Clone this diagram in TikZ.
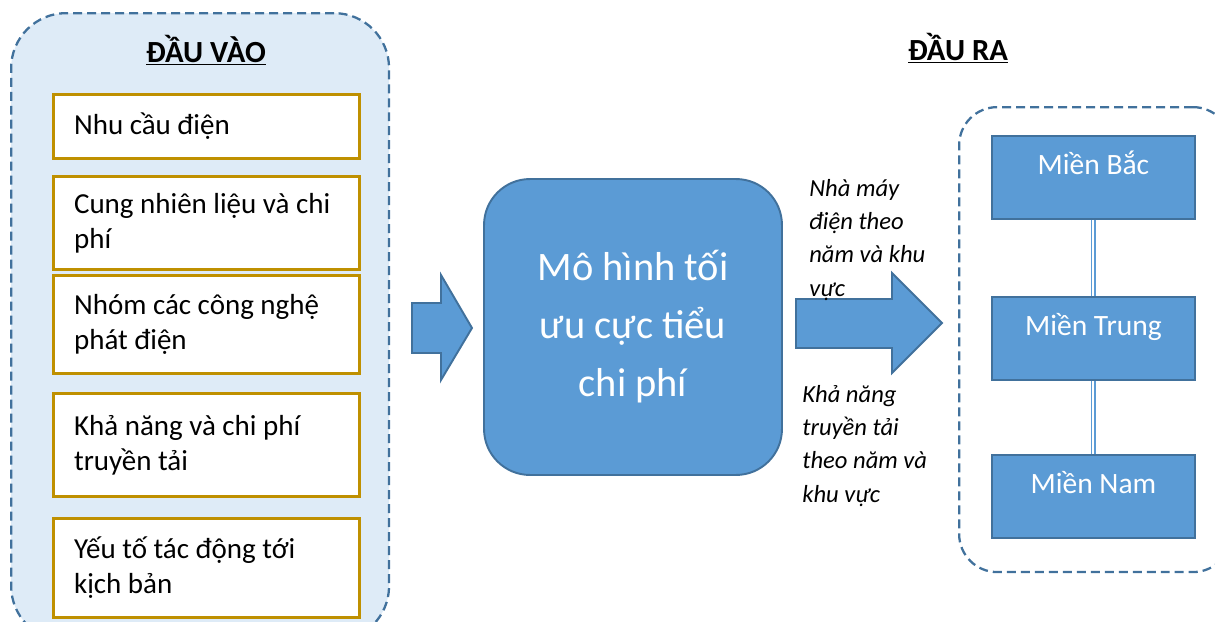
\documentclass[tikz,border=0pt]{standalone}
\usepackage{fontspec}
\setmainfont{Carlito}
\usetikzlibrary{positioning}

\definecolor{paleblue}{HTML}{DEEBF7}
\definecolor{frameblue}{HTML}{41719C}
\definecolor{boxblue}{HTML}{5B9BD5}
\definecolor{goldline}{HTML}{BF9000}

\begin{document}
\begin{tikzpicture}[
  x=0.02cm, y=-0.02cm,
  every node/.style={inner sep=0pt},
  group/.style={draw=frameblue, line width=1.3pt, dash pattern=on 0.18cm off 0.1cm},
  inbox/.style={draw=goldline, fill=white, line width=1.8pt, anchor=north west,
    text width=5.3cm, inner xsep=0.41cm, align=flush left,
    font=\fontsize{16.5}{19.9}\selectfont},
  region/.style={draw=frameblue, fill=boxblue, line width=1.1pt, anchor=north west,
    minimum width=4.06cm, text height=0.78cm, text depth=0.88cm, text=white,
    font=\fontsize{16.8}{19}\selectfont},
  blockarrow/.style={draw=frameblue, fill=boxblue, line width=1.1pt, line join=miter},
  link/.style={draw=boxblue, double=white, double distance=1.1pt, line width=0.9pt},
  heading/.style={anchor=base, font=\bfseries\fontsize{17.5}{20}\selectfont},
  flowlabel/.style={anchor=base west, align=left,
    font=\itshape\fontsize{14}{18.8}\selectfont},
]

% ── Page frame (1px = 0.02cm) ────────────────────────────────────────────────
\useasboundingbox (0,0) rectangle (1215,622);
\clip (0,0) rectangle (1215,622);

% ── Input group (left) ───────────────────────────────────────────────────────
\node[group, fill=paleblue, rounded corners=1.1cm, anchor=north west,
      minimum width=7.56cm, minimum height=12.56cm] (inputs) at (10,12) {};
\node[heading] (inTitle) at (206,62) {\underline{ĐẦU VÀO}};

% Input boxes, hand-placed top to bottom
\node[inbox, minimum height=1.28cm] (demand) at (52,93)  {Nhu cầu điện};
\node[inbox, minimum height=1.86cm] (fuel)   at (52,175) {Cung nhiên liệu và chi\\phí};
\node[inbox, minimum height=1.96cm] (tech)   at (52,274) {Nhóm các công nghệ\\phát điện};
\node[inbox, minimum height=2.06cm] (trans)  at (52,392) {Khả năng và chi phí\\truyền tải};
\node[inbox, minimum height=1.98cm] (scen)   at (52,517) {Yếu tố tác động tới\\kịch bản};

% ── Input arrow ──────────────────────────────────────────────────────────────
\draw[blockarrow] (412,303) -- (441,303) -- (441,275) -- (472,328)
  -- (441,380) -- (441,353) -- (412,353) -- cycle;

% ── Model (centre) ───────────────────────────────────────────────────────────
\node[draw=frameblue, fill=boxblue, line width=1.1pt, rounded corners=0.92cm,
      minimum width=5.96cm, minimum height=5.92cm, text=white, align=center,
      font=\fontsize{23}{33}\selectfont] (model) at (633,327)
  {Mô hình tối\\ưu cực tiểu\\chi phí};

% ── Output arrow and its labels ──────────────────────────────────────────────
\draw[blockarrow] (796,299) -- (892,299) -- (892,273) -- (942,323)
  -- (892,373) -- (892,348) -- (796,348) -- cycle;
% base anchor sits on the last line
\node[flowlabel] (plants) at (809,296) {Nhà máy\\điện theo\\năm và khu\\vực};
\node[flowlabel] (grid)   at (802,502) {Khả năng\\truyền tải\\theo năm và\\khu vực};

% ── Output group (right) ─────────────────────────────────────────────────────
\node[heading] (outTitle) at (958,60) {\underline{ĐẦU RA}};
\node[group, rounded corners=0.76cm, anchor=north west,
      minimum width=5.44cm, minimum height=9.3cm] (outputs) at (958,106) {};

\node[region] (north)   at (991,135) {Miền Bắc};
\node[region] (central) at (991,296) {Miền Trung};
\node[region] (south)   at (991,454) {Miền Nam};

% Links between the regions
\draw[link] (north) -- (central);
\draw[link] (central) -- (south);

\end{tikzpicture}
\end{document}
